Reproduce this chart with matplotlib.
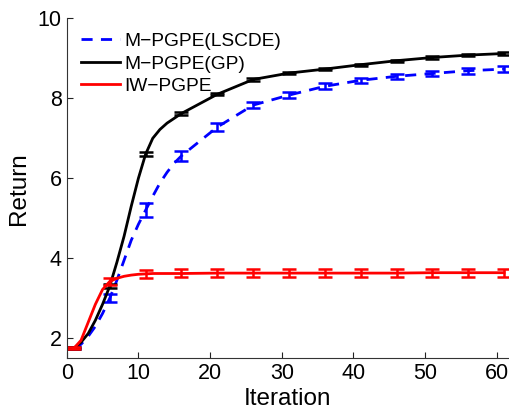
import numpy as np
import matplotlib.pyplot as plt

plt.rcParams['font.family'] = ['Liberation Sans', 'DejaVu Sans']

iters = [1, 2, 3, 4, 5, 6, 7, 8, 9, 10, 11, 12, 13, 14, 15, 16,
         21, 26, 31, 36, 41, 46, 51, 56, 61]

ret_gp = [1.75, 1.90, 2.12, 2.45, 2.85, 3.30, 3.90, 4.55, 5.30, 6.00, 6.60, 7.00, 7.22, 7.38, 7.50, 7.62,
          8.10, 8.47, 8.63, 8.73, 8.84, 8.94, 9.02, 9.08, 9.12]
ret_lscde = [1.75, 1.85, 2.05, 2.30, 2.62, 3.00, 3.45, 3.95, 4.45, 4.85, 5.20, 5.55, 5.88, 6.15, 6.38, 6.56,
             7.28, 7.83, 8.08, 8.30, 8.45, 8.55, 8.62, 8.69, 8.73]
ret_iw = [1.75, 1.95, 2.40, 2.85, 3.22, 3.42, 3.50, 3.55, 3.58, 3.60, 3.61, 3.62, 3.62, 3.62, 3.62, 3.62,
          3.63, 3.63, 3.63, 3.63, 3.63, 3.63, 3.64, 3.64, 3.64]

# error bars every 5 iterations
err_iters = [1, 6, 11, 16, 21, 26, 31, 36, 41, 46, 51, 56, 61]
err_gp = [0.02, 0.05, 0.05, 0.03, 0.03, 0.03, 0.03, 0.03, 0.03, 0.03, 0.03, 0.03, 0.03]
err_lscde = [0.03, 0.10, 0.17, 0.13, 0.10, 0.07, 0.07, 0.07, 0.06, 0.06, 0.07, 0.08, 0.08]
err_iw = [0.02, 0.08, 0.10, 0.10, 0.10, 0.10, 0.10, 0.10, 0.10, 0.10, 0.10, 0.10, 0.10]

fig = plt.figure(figsize=(5.10, 4.12), dpi=100)
W, H = 510, 412
ax = fig.add_axes([66.7 / W, 1 - 358.3 / H, (508 - 66.7) / W, (358.3 - 18.3) / H])

idx = [iters.index(i) for i in err_iters]

series = [
    (ret_lscde, err_lscde, 'blue', '--', 'M\u2212PGPE(LSCDE)'),
    (ret_gp, err_gp, 'black', '-', 'M\u2212PGPE(GP)'),
    (ret_iw, err_iw, 'red', '-', 'IW\u2212PGPE'),
]
for vals, errs, col, ls, lab in series:
    ax.plot(iters, vals, color=col, ls=ls, lw=2, label=lab,
            dashes=(4, 3) if ls == '--' else (None, None))
    ax.errorbar(err_iters, [vals[i] for i in idx], yerr=errs, fmt='none',
                ecolor=col, elinewidth=1.8, capsize=5, capthick=1.8, clip_on=False)

ax.set_xlim(0, 61.55)
ax.set_ylim(1.5, 10)
ax.set_xticks([0, 10, 20, 30, 40, 50, 60])
ax.set_yticks([2, 4, 6, 8, 10])
ax.tick_params(direction='in', length=4, labelsize=15.5, colors='#222222', labelcolor='black')
for s in ['top', 'right']:
    ax.spines[s].set_visible(False)
for s in ['left', 'bottom']:
    ax.spines[s].set_color('#333333')

ax.set_xlabel('Iteration', fontsize=17.5, labelpad=3)
ax.set_ylabel('Return', fontsize=17.5, labelpad=6)

ax.legend(loc='upper left', bbox_to_anchor=(0.02, 0.975), frameon=False, fontsize=13.8,
          handlelength=2.0, handletextpad=0.25, labelspacing=0.27, borderpad=0.3,
          borderaxespad=0)

fig.savefig('out.png', dpi=100)
